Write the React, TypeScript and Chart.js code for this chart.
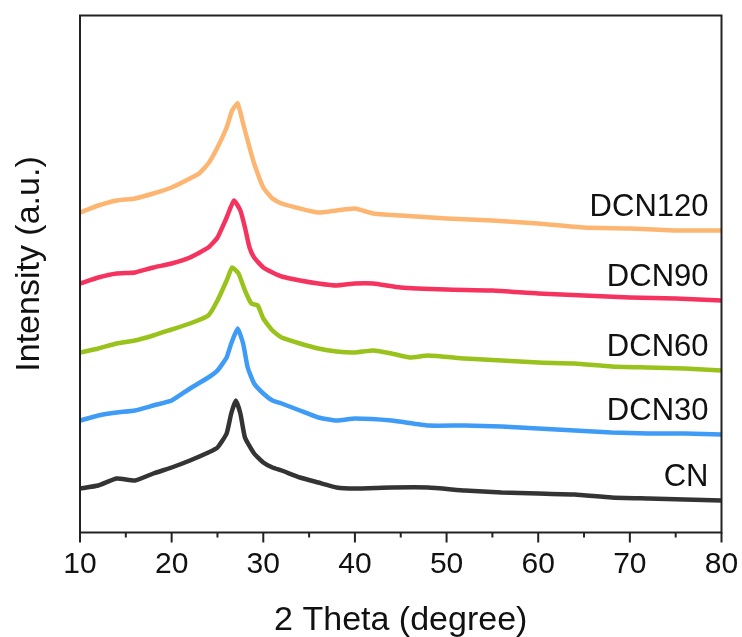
import React, { useEffect, useRef } from "react";
import { Chart, registerables } from "chart.js";

Chart.register(...registerables);

// 2θ positions (degree) for each series and read-off intensities (a.u.)
const cnX = [10, 12, 14, 16, 18, 20, 22, 24, 25, 26, 26.5, 27, 27.5, 28, 29, 30, 31, 32, 34, 36, 38, 40, 44, 48, 52, 56, 60, 64, 68, 72, 76, 80];
const cnY = [44, 47, 54, 52, 59, 65, 72, 80, 85, 99, 119, 132, 119, 95, 79, 70, 65, 62, 55, 50, 45, 44, 45, 45, 42, 40, 39, 38, 35, 34, 33, 32];

const dcn30X = [10, 12, 14, 16, 18, 20, 22, 24, 25, 26, 26.5, 27.2, 27.8, 28.3, 29, 30, 31, 32, 34, 36, 38, 40, 44, 48, 52, 56, 60, 64, 68, 72, 76, 80];
const dcn30Y = [112, 117, 120, 122, 127, 132, 144, 155, 162, 175, 189, 204, 189, 165, 149, 139, 132, 129, 122, 115, 112, 114, 112, 107, 107, 106, 104, 102, 100, 99, 99, 98];

const dcn60X = [10, 12, 14, 16, 18, 20, 22, 24, 25, 26, 26.6, 27.3, 28, 28.7, 29.4, 30, 31, 32, 34, 36, 38, 40, 42, 44, 46, 48, 52, 56, 60, 64, 68, 72, 76, 80];
const dcn60Y = [180, 184, 189, 192, 197, 203, 209, 217, 232, 252, 265, 259, 242, 229, 227, 214, 202, 195, 189, 184, 181, 180, 182, 179, 175, 177, 174, 172, 170, 169, 166, 165, 164, 162];

const dcn90X = [10, 12, 14, 16, 18, 20, 22, 24, 25, 26, 26.8, 27.5, 28, 28.5, 29, 30, 31, 32, 34, 36, 38, 40, 42, 45, 50, 55, 60, 65, 70, 75, 80];
const dcn90Y = [249, 255, 259, 260, 265, 269, 275, 285, 295, 315, 332, 322, 305, 285, 275, 265, 260, 256, 252, 249, 247, 249, 249, 245, 243, 242, 239, 237, 235, 234, 232];

const dcn120X = [10, 12, 14, 16, 18, 20, 22, 23, 24, 25, 26, 26.6, 27.2, 27.8, 28.5, 29, 30, 31, 32, 34, 36, 38, 40, 42, 45, 50, 55, 60, 65, 70, 75, 80];
const dcn120Y = [320, 327, 332, 334, 339, 345, 354, 359, 369, 385, 405, 422, 429, 409, 385, 369, 345, 334, 329, 324, 320, 322, 324, 319, 317, 314, 312, 309, 305, 304, 302, 302];

const seriesNames = ["CN", "DCN30", "DCN60", "DCN90", "DCN120"];
const seriesColors = ["#343434", "#3f9cf6", "#99c31c", "#f5335f", "#fdb672"];
const seriesX = [cnX, dcn30X, dcn60X, dcn90X, dcn120X];
const seriesY = [cnY, dcn30Y, dcn60Y, dcn90Y, dcn120Y];

const xMajorTicks = [10, 20, 30, 40, 50, 60, 70, 80];
const xMinorTicks = [15, 25, 35, 45, 55, 65, 75];

const xTitle = "2 Theta (degree)";
const yTitle = "Intensity (a.u.)";

const FONT = "'Liberation Sans', Arial, sans-serif";

const framePlugin = {
  id: "frameAndLabels",
  afterDraw(chart: any) {
    const ctx = chart.ctx;
    const { left, top, right, bottom } = chart.chartArea;
    const xs = chart.scales.x;
    ctx.save();
    ctx.strokeStyle = "#222";
    ctx.lineWidth = 2;
    ctx.strokeRect(left, top, right - left, bottom - top);
    ctx.beginPath();
    xMajorTicks.forEach((v) => {
      const px = xs.getPixelForValue(v);
      ctx.moveTo(px, bottom);
      ctx.lineTo(px, bottom + 10);
    });
    xMinorTicks.forEach((v) => {
      const px = xs.getPixelForValue(v);
      ctx.moveTo(px, bottom);
      ctx.lineTo(px, bottom + 5);
    });
    ctx.stroke();
    // series labels
    ctx.fillStyle = "#111";
    ctx.font = `31px ${FONT}`;
    ctx.textAlign = "right";
    ctx.textBaseline = "middle";
    chart.data.datasets.forEach((ds: any, i: number) => {
      const meta = chart.getDatasetMeta(i);
      const last = meta.data[meta.data.length - 1];
      ctx.fillText(ds.label, right - 13, last.y - 23);
    });
    // axis titles
    ctx.font = `34px ${FONT}`;
    ctx.textAlign = "center";
    ctx.textBaseline = "alphabetic";
    ctx.fillText(xTitle, (left + right) / 2, bottom + 97);
    ctx.translate(39, (top + bottom) / 2 - 10);
    ctx.rotate(-Math.PI / 2);
    ctx.fillText(yTitle, 0, 0);
    ctx.restore();
  },
};

export default function App() {
  const ref = useRef<HTMLCanvasElement | null>(null);
  useEffect(() => {
    document.body.style.margin = "0";
    if (!ref.current) return;
    const chart = new Chart(ref.current, {
      type: "line",
      data: {
        datasets: seriesNames.map((name, i) => ({
          label: name,
          data: seriesX[i].map((x, j) => ({ x, y: seriesY[i][j] })),
          borderColor: seriesColors[i],
          borderWidth: 4.5,
          pointRadius: 0,
          tension: 0.15,
          fill: false,
        })),
      },
      options: {
        animation: false,
        responsive: false,
        maintainAspectRatio: false,
        layout: { padding: { left: 0, top: 15.5, right: 20.5, bottom: 0 } },
        plugins: { legend: { display: false }, tooltip: { enabled: false } },
        scales: {
          x: {
            type: "linear",
            min: 10,
            max: 80,
            afterFit(scale: any) {
              scale.height = 104.5;
              scale.paddingLeft = 0;
              scale.paddingRight = 0;
            },
            afterBuildTicks(scale: any) {
              scale.ticks = xMajorTicks.map((v) => ({ value: v }));
            },
            grid: { display: false, drawTicks: false },
            border: { display: false },
            ticks: {
              color: "#111",
              font: { family: FONT, size: 30 },
              padding: 14,
              maxRotation: 0,
              autoSkip: false,
            },
            title: { display: false },
          },
          y: {
            type: "linear",
            min: 0,
            max: 517,
            afterFit(scale: any) {
              scale.width = 80;
              scale.paddingTop = 0;
              scale.paddingBottom = 0;
            },
            grid: { display: false, drawTicks: false },
            border: { display: false },
            ticks: { display: false },
            title: { display: false },
          },
        },
      },
      plugins: [framePlugin],
    });
    return () => chart.destroy();
  }, []);
  return (
    <div style={{ width: 742, height: 637 }}>
      <canvas ref={ref} width={742} height={637} style={{ width: 742, height: 637 }} />
    </div>
  );
}
